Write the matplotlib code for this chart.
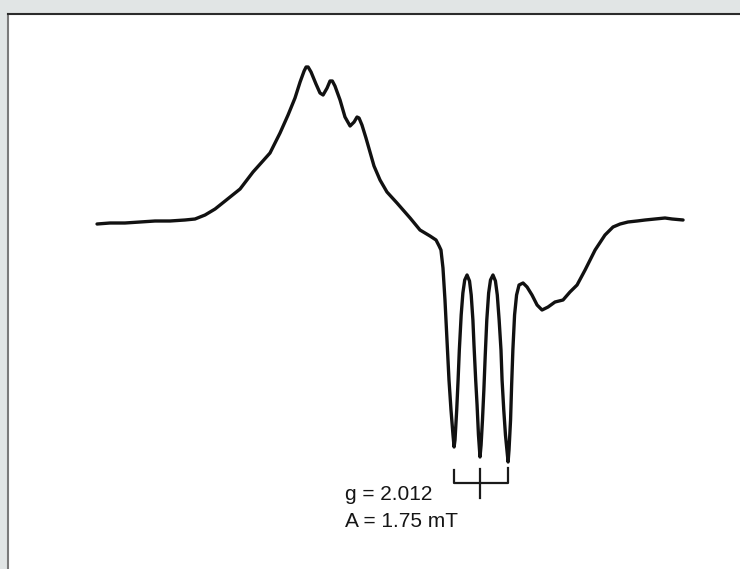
import matplotlib.pyplot as plt

# ESR spectrum, field in mT (relative), signal in arbitrary units
field = [0.00, 0.84, 1.81, 2.79, 3.76, 4.73, 5.70, 6.35, 7.00, 7.65, 8.30, 9.27,
         10.11, 10.69, 11.21, 11.86, 12.38, 12.83, 13.16, 13.42, 13.55, 13.68, 13.87,
         14.19, 14.45, 14.65, 14.91, 15.10, 15.25, 15.42, 15.75, 16.07, 16.40, 16.66,
         16.85, 16.98, 17.17, 17.43, 17.69, 17.95, 18.34, 18.79, 19.44, 20.29, 20.93,
         21.58, 21.97, 22.17,
         22.29, 22.42, 22.55, 22.68, 22.81, 22.94, 23.07, 23.14,
         23.20, 23.31, 23.40, 23.48, 23.60, 23.71, 23.83, 23.98, 24.14, 24.25, 24.36,
         24.43, 24.54, 24.63, 24.72, 24.82,
         24.89, 24.98, 25.07, 25.16, 25.26, 25.38, 25.50, 25.66, 25.82, 25.94, 26.06,
         26.18, 26.25, 26.36, 26.47, 26.64,
         26.70, 26.80, 26.87, 26.95, 27.06, 27.19, 27.35, 27.61, 27.87,
         28.19, 28.52, 28.84, 29.23, 29.68, 30.20, 30.65, 31.11, 31.63, 32.28,
         32.92, 33.44, 33.90, 34.41, 35.00, 35.52, 36.16, 36.81, 37.27, 37.98]
signal = [-0.02, -0.01, -0.01, 0.00, 0.01, 0.01, 0.02, 0.03, 0.07, 0.13, 0.21, 0.33,
          0.50, 0.60, 0.69, 0.89, 1.07, 1.24, 1.40, 1.51, 1.55, 1.55, 1.50,
          1.38, 1.29, 1.27, 1.34, 1.41, 1.41, 1.36, 1.22, 1.05, 0.96, 1.00,
          1.05, 1.04, 0.97, 0.84, 0.70, 0.56, 0.42, 0.30, 0.19, 0.04, -0.08,
          -0.14, -0.18, -0.24,
          -0.28, -0.46, -0.78, -1.18, -1.58, -1.88, -2.13, -2.25,
          -2.18, -1.88, -1.58, -1.28, -0.93, -0.71, -0.58, -0.53, -0.59, -0.73, -0.98,
          -1.23, -1.58, -1.83, -2.13, -2.35,
          -2.23, -1.98, -1.68, -1.33, -0.98, -0.71, -0.58, -0.53, -0.59, -0.73, -0.98,
          -1.28, -1.58, -1.88, -2.13, -2.40,
          -2.28, -1.98, -1.63, -1.28, -0.93, -0.73, -0.63, -0.61, -0.65,
          -0.73, -0.83, -0.88, -0.85, -0.80, -0.78, -0.70, -0.63, -0.48, -0.28,
          -0.13, -0.05, -0.02, 0.00, 0.01, 0.02, 0.03, 0.04, 0.03, 0.02]

# hyperfine lines (minima) used for the bracket
hf_lines = [23.14, 24.82, 26.64]
labels = ['g = 2.012', 'A = 1.75 mT']

fig = plt.figure(figsize=(7.4, 5.69), dpi=100, facecolor='#e1e5e5')
ax = fig.add_axes([8 / 740, 0, 732 / 740, 555 / 569])
ax.set_facecolor('white')

ax.plot(field, signal, color='#111111', linewidth=2.4, solid_capstyle='round',
        solid_joinstyle='round')

# bracket under the triplet
lw = 1.6
c = '#1a1a1a'
ax.plot([hf_lines[0], hf_lines[0], hf_lines[2], hf_lines[2]],
        [-2.48, -2.61, -2.61, -2.46], color=c, linewidth=lw)
ax.plot([hf_lines[1], hf_lines[1]], [-2.47, -2.76], color=c, linewidth=lw)

ax.text(16.07, -2.78, labels[0], fontsize=15, family='Liberation Sans',
        color='#151515', va='baseline', ha='left')
ax.text(16.07, -3.05, labels[1], fontsize=15, family='Liberation Sans',
        color='#151515', va='baseline', ha='left')

ax.set_xlim(-5.77, 41.67)
ax.set_ylim(-3.47, 2.08)
ax.set_xticks([])
ax.set_yticks([])
for s in ['right', 'bottom']:
    ax.spines[s].set_visible(False)
ax.spines['top'].set_color('#2b2b2b')
ax.spines['top'].set_linewidth(1.5)
ax.spines['left'].set_color('#7a7a7a')
ax.spines['left'].set_linewidth(1.5)

fig.savefig('out.png', dpi=100, facecolor=fig.get_facecolor())
